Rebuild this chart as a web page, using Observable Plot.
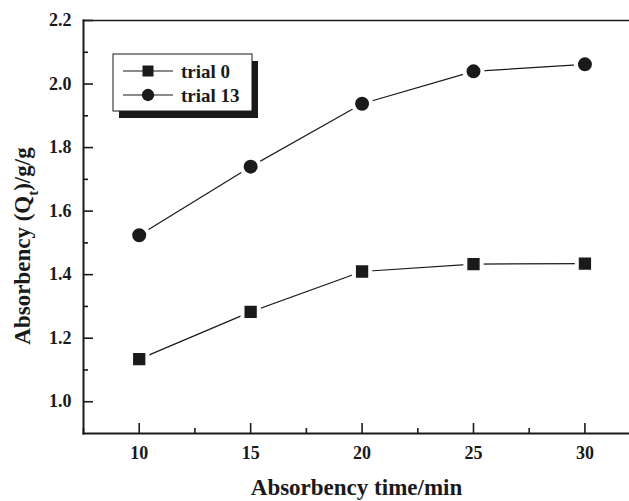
<!DOCTYPE html>
<html>
<head>
<meta charset="utf-8">
<script src="https://cdn.jsdelivr.net/npm/d3@7"></script>
<script src="https://cdn.jsdelivr.net/npm/@observablehq/plot@0.6"></script>
<style>
  html, body { margin: 0; padding: 0; background: #fff; }
</style>
</head>
<body>
<div id="chart"></div>
<script>
const times = [10, 15, 20, 25, 30];
const trial0 = [1.134, 1.283, 1.410, 1.433, 1.435];
const trial13 = [1.524, 1.740, 1.938, 2.040, 2.062];
const seriesNames = ["trial 0", "trial 13"];
const xMajor = [10, 15, 20, 25, 30];
const xMinor = [7.5, 12.5, 17.5, 22.5, 27.5];
const yMajor = [1.0, 1.2, 1.4, 1.6, 1.8, 2.0, 2.2];
const yMinor = [1.1, 1.3, 1.5, 1.7, 1.9, 2.1];
const xLabel = "Absorbency time/min";
const yLabel = "Absorbency (Qt)/g/g";

const data = [];
times.forEach((t, i) => {
  data.push({series: seriesNames[0], time: t, value: trial0[i]});
  data.push({series: seriesNames[1], time: t, value: trial13[i]});
});

const W = 629, H = 501, ML = 83, MR = 0, MT = 20, MB = 68;
const plotW = W - ML - MR, plotH = H - MT - MB;
const ink = "#1a1a1a";
const font = {fontSize: 18, fontWeight: "bold", fill: ink};

const chart = Plot.plot({
  width: W,
  height: H,
  marginLeft: ML,
  marginRight: MR,
  marginTop: MT,
  marginBottom: MB,
  style: {fontFamily: "'Liberation Serif', serif", fontWeight: "bold", background: "#fff"},
  x: {domain: [7.5, 32], axis: null},
  y: {domain: [0.9, 2.2], axis: null},
  marks: [
    Plot.frame({anchor: "top", stroke: ink, strokeWidth: 1.5}),
    Plot.frame({anchor: "bottom", stroke: ink, strokeWidth: 2}),
    Plot.frame({anchor: "left", stroke: ink, strokeWidth: 2}),
    // inward ticks
    Plot.tickX(xMajor, {x: d => d, insetTop: plotH - 10, stroke: ink, strokeWidth: 1.6}),
    Plot.tickX(xMinor, {x: d => d, insetTop: plotH - 5, stroke: ink, strokeWidth: 1.6}),
    Plot.tickY(yMajor, {y: d => d, insetRight: plotW - 10, stroke: ink, strokeWidth: 1.6}),
    Plot.tickY(yMinor, {y: d => d, insetRight: plotW - 5, stroke: ink, strokeWidth: 1.6}),
    // tick labels
    Plot.axisX(xMajor, {anchor: "bottom", tickSize: 0, tickPadding: 13, tickFormat: d => String(d), label: null, ...font}),
    Plot.axisY(yMajor, {anchor: "left", tickSize: 0, tickPadding: 12, tickFormat: d => d.toFixed(1), label: null, ...font}),
    // axis titles
    Plot.text([xLabel], {frameAnchor: "bottom", textAnchor: "middle", lineAnchor: "middle", dy: 54, text: d => d, fontSize: 23, fontWeight: "bold", fill: ink}),
    Plot.text([yLabel], {frameAnchor: "left", textAnchor: "middle", lineAnchor: "middle", rotate: -90, dx: -61, dy: 19, text: d => d, fontSize: 23, fontWeight: "bold", fill: ink}),
    // lines
    Plot.line(data, {x: "time", y: "value", z: "series", stroke: ink, strokeWidth: 1.2}),
    // markers
    Plot.dot(data.filter(d => d.series === seriesNames[0]), {x: "time", y: "value", symbol: "square", r: 9.2, fill: ink, stroke: "#fff", strokeWidth: 4}),
    Plot.dot(data.filter(d => d.series === seriesNames[1]), {x: "time", y: "value", symbol: "circle", r: 9, fill: ink, stroke: "#fff", strokeWidth: 4})
  ]
});

document.getElementById("chart").appendChild(chart);

// subscript in y label
const svg = d3.select(chart);
svg.selectAll("text").each(function() {
  const el = d3.select(this);
  if (el.text() === yLabel) {
    el.text(null);
    el.append("tspan").text("Absorbency (Q");
    el.append("tspan").attr("baseline-shift", "sub").attr("font-size", 15).text("t");
    el.append("tspan").text(")/g/g");
  }
});

// legend box with drop shadow
const lg = svg.append("g").attr("class", "legend").attr("text-anchor", "start");
lg.append("rect").attr("x", 119).attr("y", 61).attr("width", 139).attr("height", 57).attr("fill", ink);
lg.append("rect").attr("x", 113).attr("y", 54).attr("width", 139).attr("height", 57).attr("fill", "#fff").attr("stroke", ink).attr("stroke-width", 1);
const rows = [{name: seriesNames[0], sym: d3.symbolSquare}, {name: seriesNames[1], sym: d3.symbolCircle}];
rows.forEach((r, i) => {
  const yy = 71 + i * 24;
  lg.append("line").attr("x1", 123).attr("x2", 173).attr("y1", yy).attr("y2", yy).attr("stroke", ink).attr("stroke-width", 1.2);
  lg.append("path").attr("transform", `translate(148,${yy})`).attr("d", d3.symbol(r.sym, r.sym === d3.symbolSquare ? 121 : 120)()).attr("fill", ink);
  lg.append("text").attr("x", 181).attr("y", yy).attr("dy", "0.35em").attr("font-size", 19).attr("font-weight", "bold").attr("fill", ink).text(r.name);
});
</script>
</body>
</html>
